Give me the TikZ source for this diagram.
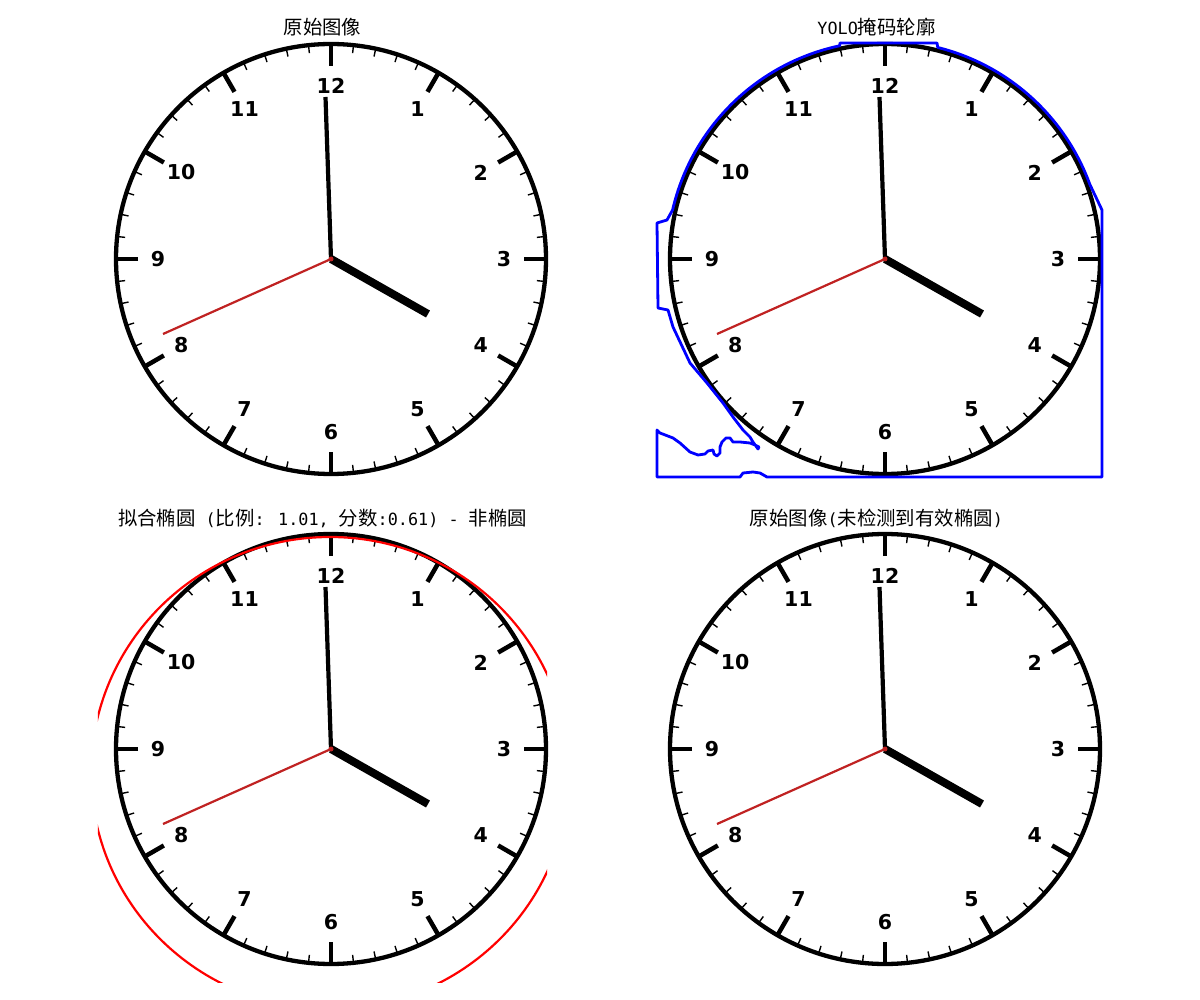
\documentclass[tikz,border=0pt]{standalone}
\usepackage{fontspec}
\setmainfont{DejaVu Sans}
\newfontfamily\cjkfont{Noto Sans CJK SC}
\newfontfamily\latfont{DejaVu Sans Mono}
\usetikzlibrary{positioning}
\definecolor{handred}{HTML}{C02222}
\definecolor{maskblue}{HTML}{0000FF}
\definecolor{fitred}{HTML}{FF0000}
\newcommand{\titlelat}[1]{{\latfont\fontsize{16.8}{20}\selectfont #1}}

\begin{document}
\begin{tikzpicture}[x=1pt, y=-1pt,
    axesframe/.style={rectangle, draw=none, inner sep=0pt,
                      minimum width=449pt, minimum height=449pt},
    paneltitle/.style={font=\cjkfont\fontsize{19.4}{22}\selectfont, inner sep=0pt},
    rim/.style={line width=4.3pt},
    hourtick/.style={line width=4.5pt},
    minutetick/.style={line width=1.4pt},
    numeral/.style={font=\fontsize{20.5}{22}\selectfont\bfseries, inner sep=0pt},
    hourhand/.style={line width=8pt},
    minutehand/.style={line width=4.2pt},
    secondhand/.style={line width=2.2pt, draw=handred},
    mask/.style={draw=maskblue, line width=2.8pt, line join=round},
    fitcurve/.style={draw=fitred, line width=2.2pt}
  ]
    \fill[white] (0,0) rectangle (1200,1000);

    % the four image axes
    \node[axesframe] (p1) at (322.5,266.5) {};
    \node[axesframe] (p2) at (876.5,266.5) {};
    \node[axesframe] (p3) at (322.5,757.5) {};
    \node[axesframe] (p4) at (876.5,757.5) {};

    % titles
    \node[paneltitle, above=7pt of p1.north, anchor=base] (t1) {原始图像};
    \node[paneltitle, above=7pt of p2.north, anchor=base] (t2) {\titlelat{YOLO}掩码轮廓};
    \node[paneltitle, above=7pt of p3.north, anchor=base] (t3)
      {拟合椭圆\titlelat{ (}比例\titlelat{: 1.01, }分数\titlelat{:0.61) - }非椭圆};
    \node[paneltitle, above=7pt of p4.north, anchor=base] (t4)
      {原始图像\titlelat{(}未检测到有效椭圆\titlelat{)}};

    % clock faces
    \foreach \p/\cx/\cy in {1/331/259, 2/885/259, 3/331/749, 4/885/749}{
      \begin{scope}[shift={(\cx,\cy)}]
        \coordinate (c\p) at (0,0);
        \foreach \m in {0,...,59}
          \draw[minutetick] (6*\m:207) -- (6*\m:215);
        \foreach \h in {1,...,12}{
          \draw[hourtick] (30*\h-90:193) -- (30*\h-90:215);
          \node[numeral] (num\p-\h) at (30*\h-90:173) {\h};
        }
        \draw[rim] (c\p) circle[radius=215];
        \coordinate (hh\p) at (97,55);
        \coordinate (mh\p) at (-5.5,-162);
        \coordinate (sh\p) at (-168,75);
        \draw[secondhand] (c\p) -- (sh\p);
        \draw[hourhand] (c\p) -- (hh\p);
        \draw[minutehand] (c\p) -- (mh\p);
        \fill[handred] (c\p) circle[radius=2.5];
      \end{scope}
    }

    % YOLO mask outline
    \begin{scope}[shift={(885,259)}]
      \draw[mask] (-45,-216) -- (52,-216) -- (284:218)
        arc[start angle=284, end angle=340, radius=218]
        -- (217,-49) -- (217,218) -- (-118,218) -- (-125,214) -- (-132,213)
        -- (-142,214) -- (-145,218) -- (-228,218) -- (-228,171) -- (-225,174)
        -- (-212,179) -- (-205,184) -- (-195,193) -- (-187,196) -- (-180,195)
        -- (-177,192) -- (-172,191) -- (-171,195) -- (-168,197) -- (-165,194)
        -- (-165,188) -- (-163,183) -- (-159,179) -- (-155,179) -- (-152,183)
        -- (-145,183) -- (-135,184) -- (-130,186) -- (-126,188) -- (-127,190)
        -- (-132,183) -- (-135,178) -- (-142,171) -- (-152,158) -- (-162,144)
        -- (-178,124) -- (-195,104) -- (-212,68) -- (-217,51) -- (-227,49)
        -- (-228,-36) -- (-218,-39) -- (193:218)
        arc[start angle=193, end angle=258, radius=218] -- cycle;
    \end{scope}

    % fitted ellipse, cut at the axes
    \begin{scope}
      \clip (p3.north west) rectangle (p3.south east);
      \draw[fitcurve] (330,773) ellipse[x radius=239, y radius=236];
    \end{scope}
  \end{tikzpicture}
\end{document}
